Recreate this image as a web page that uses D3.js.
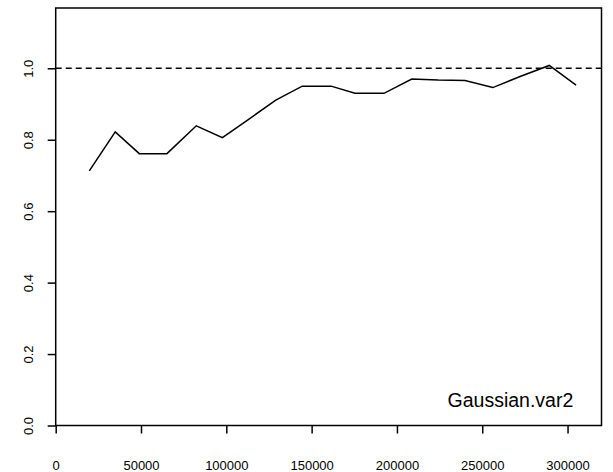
<!DOCTYPE html>
<html>
<head>
<meta charset="utf-8">
<script src="https://cdn.jsdelivr.net/npm/d3@7/dist/d3.min.js"></script>
<style>
  html, body { margin: 0; padding: 0; background: #fff; }
  svg { display: block; font-family: "Liberation Sans", Arial, sans-serif; }
</style>
</head>
<body>
<svg id="chart" width="613" height="472"></svg>
<script>
// Sample sizes (x) and the ratio measured at each (y)
const sampleSize = [19700, 34900, 49000, 65200, 82400, 97700, 113300, 129000,
                    144500, 161400, 175400, 192400, 208700, 224100, 239900,
                    256200, 272200, 289300, 305000];
const ratio = [0.713, 0.822, 0.761, 0.761, 0.839, 0.806, 0.858, 0.911,
               0.950, 0.950, 0.930, 0.930, 0.970, 0.967, 0.966,
               0.946, 0.977, 1.008, 0.953];
const xTicks = [0, 50000, 100000, 150000, 200000, 250000, 300000];
const yTicks = [0.0, 0.2, 0.4, 0.6, 0.8, 1.0];
const referenceLevel = [1.0];
const panelLabel = "Gaussian.var2";

const svg = d3.select("#chart");
const plotLeft = 55.7, plotRight = 601.5, plotTop = 8, plotBottom = 425.5;

const x = d3.scaleLinear().domain([0, 319900]).range([plotLeft, plotRight]);
const y = d3.scaleLinear().domain([0, 1.1688]).range([plotBottom, plotTop]);

// x axis
const gx = svg.append("g")
  .attr("transform", `translate(0,${plotBottom})`)
  .call(d3.axisBottom(x).tickValues(xTicks).tickFormat(d3.format("d"))
        .tickSize(8).tickSizeOuter(0));
gx.select(".domain").remove();
gx.selectAll(".tick line").attr("stroke", "#000").attr("stroke-width", 1.5);
gx.selectAll(".tick text")
  .attr("y", 44.5).attr("dy", null)
  .attr("font-size", 13).attr("fill", "#000")
  .attr("font-family", "Liberation Sans, Arial, sans-serif");

// y axis with rotated labels
const gy = svg.append("g")
  .attr("transform", `translate(${plotLeft},0)`)
  .call(d3.axisLeft(y).tickValues(yTicks).tickFormat(d3.format(".1f"))
        .tickSize(8).tickSizeOuter(0));
gy.select(".domain").remove();
gy.selectAll(".tick line").attr("stroke", "#000").attr("stroke-width", 1.5);
gy.selectAll(".tick text")
  .attr("x", 0).attr("y", 0).attr("dy", null)
  .attr("text-anchor", "middle")
  .attr("transform", "translate(-22.7,0) rotate(-90)")
  .attr("font-size", 13).attr("fill", "#000")
  .attr("font-family", "Liberation Sans, Arial, sans-serif");

// plot frame
svg.append("rect")
  .attr("x", plotLeft).attr("y", plotTop)
  .attr("width", plotRight - plotLeft).attr("height", plotBottom - plotTop)
  .attr("fill", "none").attr("stroke", "#000").attr("stroke-width", 1.5);

// dashed reference line
svg.selectAll("line.ref").data(referenceLevel).join("line")
  .attr("class", "ref")
  .attr("x1", plotLeft).attr("x2", plotRight)
  .attr("y1", d => y(d)).attr("y2", d => y(d))
  .attr("stroke", "#000").attr("stroke-width", 1.4)
  .attr("stroke-dasharray", "6,4");

// ratio series
const line = d3.line().x((d, i) => x(sampleSize[i])).y(d => y(d));
svg.append("path")
  .datum(ratio)
  .attr("d", line)
  .attr("fill", "none").attr("stroke", "#000")
  .attr("stroke-width", 1.5).attr("stroke-linejoin", "miter");

// panel label
svg.append("text")
  .attr("x", 573.3).attr("y", 406.5)
  .attr("text-anchor", "end")
  .attr("font-size", 19.5).attr("fill", "#000")
  .text(panelLabel);
</script>
</body>
</html>
